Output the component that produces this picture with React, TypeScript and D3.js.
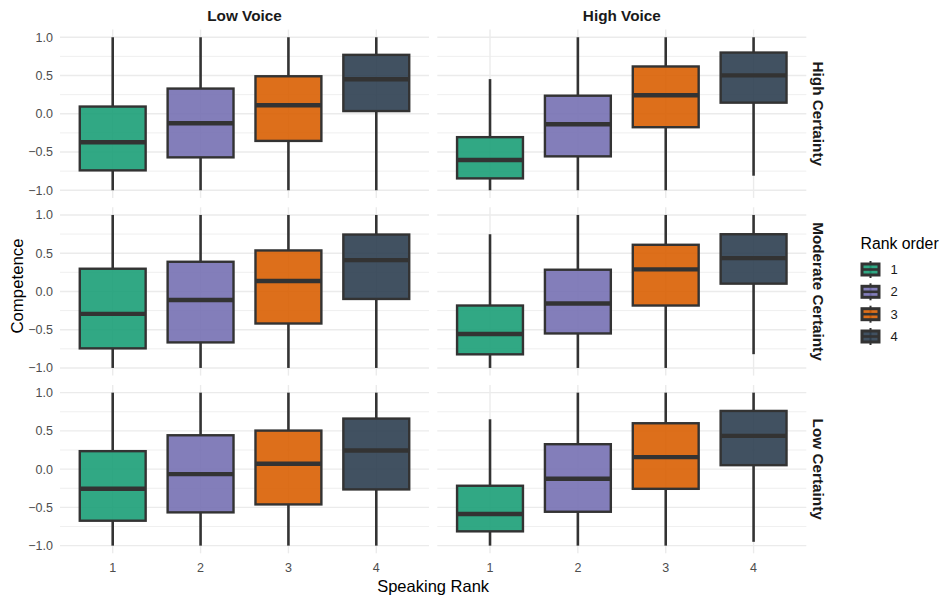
import React from "react";
import * as d3 from "d3";

// Facet levels
const voices = ["Low Voice", "High Voice"];
const certainties = ["High Certainty", "Moderate Certainty", "Low Certainty"];
const ranks = ["1", "2", "3", "4"];
const rankColors = ["#1B9E77", "#7570B3", "#D95F02", "#2C3E50"];

// Box statistics, one row per panel (certainty x voice), one value per rank
const panelKeys = [
  "High Certainty|Low Voice",
  "High Certainty|High Voice",
  "Moderate Certainty|Low Voice",
  "Moderate Certainty|High Voice",
  "Low Certainty|Low Voice",
  "Low Certainty|High Voice",
];
const whiskerLow = [
  [-1, -1, -1, -1],
  [-1, -1, -1, -0.81],
  [-1, -1, -1, -1],
  [-1, -1, -1, -0.82],
  [-1, -1, -1, -1],
  [-1, -1, -1, -0.95],
];
const q1 = [
  [-0.74, -0.57, -0.355, 0.035],
  [-0.845, -0.557, -0.176, 0.145],
  [-0.744, -0.666, -0.419, -0.098],
  [-0.822, -0.549, -0.184, 0.102],
  [-0.674, -0.565, -0.461, -0.265],
  [-0.813, -0.557, -0.257, 0.052],
];
const median = [
  [-0.373, -0.124, 0.111, 0.451],
  [-0.605, -0.137, 0.241, 0.501],
  [-0.293, -0.111, 0.137, 0.41],
  [-0.557, -0.158, 0.289, 0.436],
  [-0.257, -0.065, 0.07, 0.243],
  [-0.587, -0.126, 0.157, 0.435],
];
const q3 = [
  [0.094, 0.329, 0.49, 0.77],
  [-0.306, 0.236, 0.618, 0.8],
  [0.297, 0.388, 0.536, 0.744],
  [-0.184, 0.284, 0.61, 0.748],
  [0.235, 0.443, 0.504, 0.661],
  [-0.217, 0.326, 0.6, 0.761],
];
const whiskerHigh = [
  [1, 1, 1, 1],
  [0.453, 1, 1, 1],
  [1, 1, 1, 1],
  [0.748, 1, 1, 1],
  [1, 1, 1, 1],
  [0.652, 1, 1, 1],
];

const yTicks = [-1, -0.5, 0, 0.5, 1];
const yMinor = [-0.75, -0.25, 0.25, 0.75];

const W = 943;
const H = 596;
const FONT = "'Liberation Sans', Arial, Helvetica, sans-serif";

const panelLeft = 60;
const panelW = 369;
const gapX = 8.3;
const panelTop = 29.6;
const panelH = 168.3;
const gapY = 9.4;

// discrete axis: rank i sits at i, with 0.6 of expansion on each side
const xc = d3.scaleLinear().domain([0.4, 4.6]).range([0, panelW]);
const y = d3.scaleLinear().domain([-1.1, 1.1]).range([panelH, 0]);

const STROKE = "#333333";
const GRID = "#EBEBEB";
const boxWidth = 0.75;

function Panel({ row, col }: { row: number; col: number }) {
  const p = row * 2 + col;
  const tx = panelLeft + col * (panelW + gapX);
  const ty = panelTop + row * (panelH + gapY);
  const halfW = (xc(1 + boxWidth / 2) - xc(1 - boxWidth / 2)) / 2;
  return (
    <g transform={`translate(${tx},${ty})`}>
      {yMinor.map((v) => (
        <line key={"mi" + v} x1={0} x2={panelW} y1={y(v)} y2={y(v)} stroke={GRID} strokeWidth={0.8} />
      ))}
      {yTicks.map((v) => (
        <line key={"ma" + v} x1={0} x2={panelW} y1={y(v)} y2={y(v)} stroke={GRID} strokeWidth={1.4} />
      ))}
      {ranks.map((r, i) => (
        <line key={"vx" + r} x1={xc(i + 1)} x2={xc(i + 1)} y1={0} y2={panelH} stroke={GRID} strokeWidth={1.4} />
      ))}
      {ranks.map((r, i) => {
        const cx = xc(i + 1);
        return (
          <g key={"b" + r}>
            <line x1={cx} x2={cx} y1={y(whiskerHigh[p][i])} y2={y(q3[p][i])} stroke={STROKE} strokeWidth={2.6} />
            <line x1={cx} x2={cx} y1={y(q1[p][i])} y2={y(whiskerLow[p][i])} stroke={STROKE} strokeWidth={2.6} />
            <rect
              x={cx - halfW}
              y={y(q3[p][i])}
              width={halfW * 2}
              height={y(q1[p][i]) - y(q3[p][i])}
              fill={rankColors[i]}
              fillOpacity={0.9}
              stroke={STROKE}
              strokeWidth={2.4}
            />
            <line
              x1={cx - halfW}
              x2={cx + halfW}
              y1={y(median[p][i])}
              y2={y(median[p][i])}
              stroke={STROKE}
              strokeWidth={4.4}
            />
          </g>
        );
      })}
    </g>
  );
}

export default function App() {
  const panels = [];
  for (let r = 0; r < certainties.length; r++)
    for (let c = 0; c < voices.length; c++) panels.push(<Panel key={panelKeys[r * 2 + c]} row={r} col={c} />);

  const rightEdge = panelLeft + 2 * panelW + gapX;
  const bottomEdge = panelTop + 3 * panelH + 2 * gapY;
  const legendX = 860.5;
  const legendKeyY = [269.5, 291.8, 314.2, 336.5];

  return (
    <svg width={W} height={H} style={{ position: "absolute", left: 0, top: 0, background: "#fff" }} fontFamily={FONT}>
      <rect width={W} height={H} fill="#fff" />
      {panels}

      {/* y axis tick labels on the left column */}
      {certainties.map((c, r) =>
        yTicks.map((v) => (
          <text
            key={c + v}
            x={panelLeft - 7}
            y={panelTop + r * (panelH + gapY) + y(v)}
            dy="0.35em"
            textAnchor="end"
            fontSize={12.5}
            fill="#4D4D4D"
          >
            {d3.format(".1f")(v)}
          </text>
        ))
      )}

      {/* x axis tick labels under bottom row */}
      {voices.map((v, c) =>
        ranks.map((r, i) => (
          <text
            key={v + r}
            x={panelLeft + c * (panelW + gapX) + xc(i + 1)}
            y={bottomEdge + 14}
            dy="0.35em"
            textAnchor="middle"
            fontSize={12.5}
            fill="#4D4D4D"
          >
            {r}
          </text>
        ))
      )}

      {/* column strips */}
      {voices.map((v, c) => (
        <text
          key={v}
          x={panelLeft + c * (panelW + gapX) + panelW / 2}
          y={15.7}
          dy="0.35em"
          textAnchor="middle"
          fontSize={15.3}
          fontWeight="bold"
          fill="#1A1A1A"
        >
          {v}
        </text>
      ))}

      {/* row strips */}
      {certainties.map((c, r) => {
        const cy = panelTop + r * (panelH + gapY) + panelH / 2;
        return (
          <text
            key={c}
            transform={`translate(${rightEdge + 12},${cy}) rotate(90)`}
            dy="0.35em"
            textAnchor="middle"
            fontSize={15.3}
            fontWeight="bold"
            fill="#1A1A1A"
          >
            {c}
          </text>
        );
      })}

      {/* axis titles */}
      <text x={panelLeft + (rightEdge - panelLeft) / 2} y={586} dy="0.35em" textAnchor="middle" fontSize={16.5} fill="#000">
        Speaking Rank
      </text>
      <text transform={`translate(17,286) rotate(-90)`} dy="0.35em" textAnchor="middle" fontSize={16.8} fill="#000">
        Competence
      </text>

      {/* legend */}
      <text x={legendX} y={243.3} dy="0.35em" fontSize={15.8} fill="#000">
        Rank order
      </text>
      {ranks.map((r, i) => {
        const cy = legendKeyY[i];
        const kx = legendX + 10;
        return (
          <g key={"lg" + r}>
            <line x1={kx} x2={kx} y1={cy - 8.5} y2={cy + 8.5} stroke={STROKE} strokeWidth={2} />
            <rect
              x={legendX + 1.5}
              y={cy - 5.5}
              width={17}
              height={11}
              fill={rankColors[i]}
              fillOpacity={0.9}
              stroke={STROKE}
              strokeWidth={3}
            />
            <line x1={legendX + 1.5} x2={legendX + 18.5} y1={cy} y2={cy} stroke={STROKE} strokeWidth={2.6} />
            <text x={legendX + 30} y={cy} dy="0.35em" fontSize={13} fill="#1A1A1A">
              {r}
            </text>
          </g>
        );
      })}
    </svg>
  );
}
